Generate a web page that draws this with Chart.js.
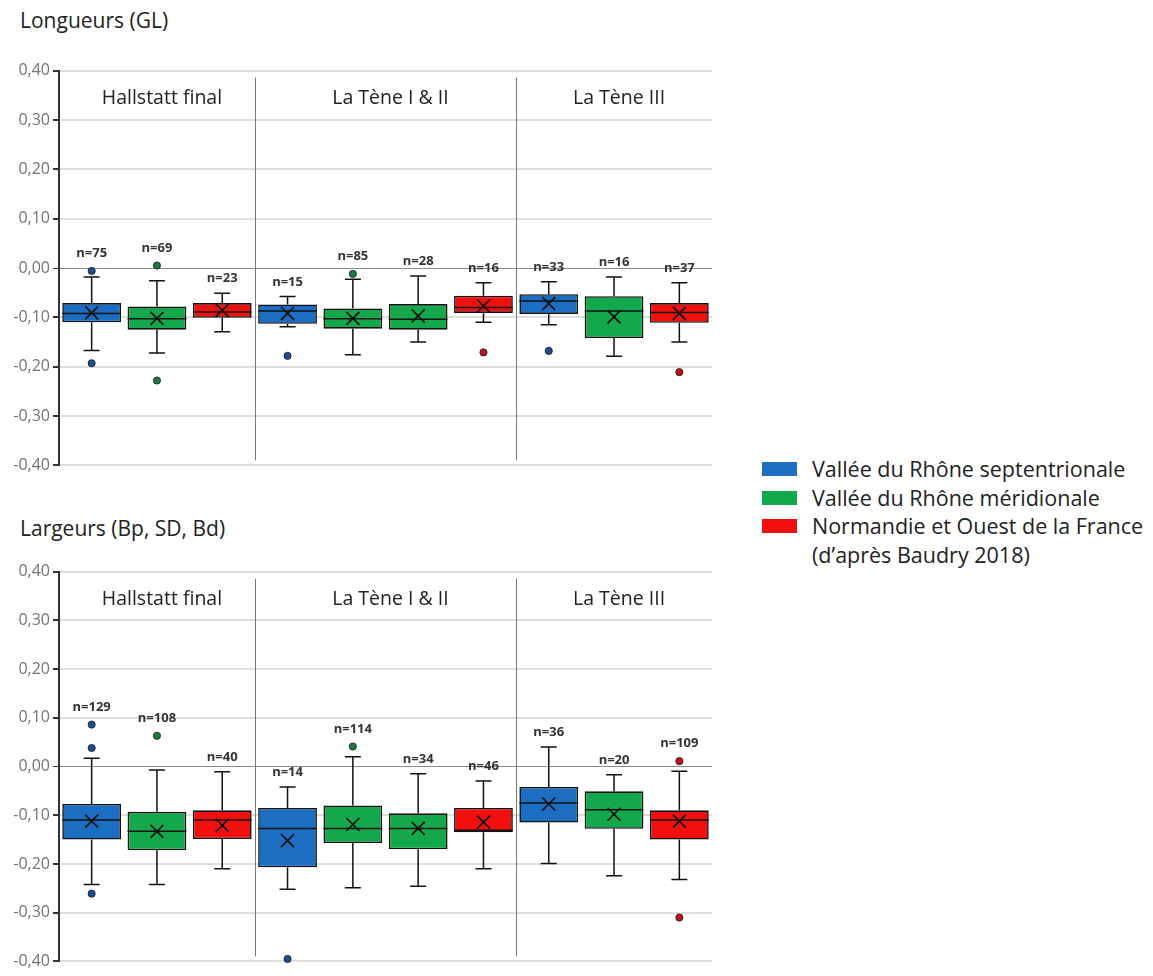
<!DOCTYPE html>
<html lang="fr">
<head>
  <meta charset="UTF-8" />
  <title>Longueurs et largeurs</title>
  <script src="https://cdn.jsdelivr.net/npm/chart.js@4"></script>
  <style>
    body { margin: 0; background: #fff; font-family: "Open Sans", sans-serif; color: #222; }
    #page { position: relative; width: 1153px; height: 976px; overflow: hidden; }
    .title { position: absolute; left: 20px; font-size: 21px; line-height: 24px; }
    canvas { position: absolute; left: 0; }
    #legend { position: absolute; left: 762px; top: 455px; font-size: 21.5px; line-height: 28.5px; }
    #legend .row { display: flex; align-items: center; }
    #legend .sw { display: inline-block; width: 35px; height: 14px; margin-right: 15px; }
    #legend .indent { padding-left: 50px; }
  </style>
</head>
<body>
<div id="page">
  <div class="title" style="top:8px">Longueurs (GL)</div>
  <canvas id="chartGL" width="730" height="420" style="top:58px"></canvas>
  <div class="title" style="top:516px">Largeurs (Bp, SD, Bd)</div>
  <canvas id="chartLG" width="730" height="415" style="top:559px"></canvas>
  <div id="legend"></div>
</div>

<script>
  // périodes et régions
  const groups = ["Hallstatt final", "La Tène I & II", "La Tène III"];
  const groupSizes = [3, 4, 3];
  const regions = ["Vallée du Rhône septentrionale", "Vallée du Rhône méridionale", "Normandie et Ouest de la France"];
  const regionNote = "(d’après Baudry 2018)";
  const regionColors = ["#1b6ec2", "#13a84b", "#f40f0f"];
  const dotColors = ["#1d4f8f", "#1a7a40", "#c01018"];
  const boxLabels = ["HF-S", "HF-M", "HF-N", "LT-S", "LT-M1", "LT-M2", "LT-N", "LT3-S", "LT3-M", "LT3-N"];
  const boxRegion = [0, 1, 2, 0, 1, 1, 2, 0, 1, 2];
  const yTicks = [-0.4, -0.3, -0.2, -0.1, 0, 0.1, 0.2, 0.3, 0.4];

  // Longueurs (GL)
  const glN = [75, 69, 23, 15, 85, 28, 16, 33, 16, 37];
  const glQ1 = [-0.110, -0.125, -0.101, -0.113, -0.123, -0.125, -0.091, -0.093, -0.142, -0.111];
  const glQ3 = [-0.071, -0.078, -0.071, -0.074, -0.082, -0.073, -0.056, -0.053, -0.057, -0.071];
  const glMedian = [-0.092, -0.103, -0.089, -0.087, -0.103, -0.104, -0.080, -0.067, -0.087, -0.090];
  const glMean = [-0.091, -0.102, -0.086, -0.092, -0.102, -0.097, -0.077, -0.072, -0.099, -0.092];
  const glMin = [-0.167, -0.172, -0.129, -0.119, -0.176, -0.150, -0.110, -0.115, -0.179, -0.150];
  const glMax = [-0.018, -0.026, -0.051, -0.058, -0.023, -0.016, -0.030, -0.028, -0.018, -0.030];
  const glOutliers = [[-0.006, -0.193], [0.005, -0.228], [], [-0.178], [-0.012], [], [-0.171], [-0.168], [], [-0.211]];

  // Largeurs (Bp, SD, Bd)
  const lgN = [129, 108, 40, 14, 114, 34, 46, 36, 20, 109];
  const lgQ1 = [-0.150, -0.172, -0.149, -0.207, -0.157, -0.170, -0.135, -0.115, -0.128, -0.150];
  const lgQ3 = [-0.077, -0.093, -0.090, -0.085, -0.080, -0.096, -0.085, -0.042, -0.051, -0.090];
  const lgMedian = [-0.110, -0.133, -0.110, -0.127, -0.127, -0.127, -0.131, -0.075, -0.089, -0.110];
  const lgMean = [-0.112, -0.133, -0.121, -0.152, -0.119, -0.127, -0.114, -0.077, -0.098, -0.112];
  const lgMin = [-0.242, -0.242, -0.210, -0.252, -0.249, -0.246, -0.210, -0.199, -0.224, -0.232];
  const lgMax = [0.017, -0.007, -0.011, -0.042, 0.020, -0.015, -0.030, 0.040, -0.017, -0.010];
  const lgOutliers = [[0.086, 0.038, -0.261], [0.063], [], [-0.395], [0.041], [], [], [], [], [0.011, -0.310]];

  // légende
  const legend = document.getElementById("legend");
  regions.forEach((r, i) => {
    legend.innerHTML += `<div class="row"><span class="sw" style="background:${regionColors[i]}"></span>${r}</div>`;
  });
  legend.innerHTML += `<div class="indent">${regionNote}</div>`;

  // moustaches, médianes, moyennes, points isolés, effectifs, séparateurs
  const boxPlugin = {
    id: "boxExtras",
    beforeDatasetsDraw(chart) {
      const { ctx, chartArea, scales } = chart;
      const x = scales.x;
      ctx.save();
      let start = 0;
      groups.forEach((g, gi) => {
        const end = start + groupSizes[gi] - 1;
        const center = (x.getPixelForValue(start) + x.getPixelForValue(end)) / 2;
        ctx.fillStyle = "#222";
        ctx.font = "19.5px 'Open Sans'";
        ctx.textAlign = "center";
        ctx.textBaseline = "middle";
        ctx.fillText(g, center + 5, chartArea.top + 28);
        if (gi < groups.length - 1) {
          const sx = Math.round((x.getPixelForValue(end) + x.getPixelForValue(end + 1)) / 2) + 0.5;
          ctx.strokeStyle = "#777";
          ctx.lineWidth = 1;
          ctx.beginPath();
          ctx.moveTo(sx, chartArea.top + 7);
          ctx.lineTo(sx, chartArea.bottom - 5);
          ctx.stroke();
        }
        start = end + 1;
      });
      ctx.restore();
    },
    afterDatasetsDraw(chart) {
      const { ctx, scales } = chart;
      const y = scales.y;
      const s = chart.options.plugins.boxExtras;
      const meta = chart.getDatasetMeta(0);
      ctx.save();
      meta.data.forEach((bar, i) => {
        const cx = bar.x;
        const half = bar.width / 2;
        ctx.strokeStyle = "#111";
        ctx.lineWidth = 1.5;
        // moustaches
        const yMax = y.getPixelForValue(s.max[i]);
        const yMin = y.getPixelForValue(s.min[i]);
        ctx.beginPath();
        ctx.moveTo(cx, y.getPixelForValue(s.q3[i]));
        ctx.lineTo(cx, yMax);
        ctx.moveTo(cx - 8, yMax);
        ctx.lineTo(cx + 8, yMax);
        ctx.moveTo(cx, y.getPixelForValue(s.q1[i]));
        ctx.lineTo(cx, yMin);
        ctx.moveTo(cx - 8, yMin);
        ctx.lineTo(cx + 8, yMin);
        ctx.stroke();
        // médiane
        const yMed = y.getPixelForValue(s.median[i]);
        ctx.beginPath();
        ctx.moveTo(cx - half, yMed);
        ctx.lineTo(cx + half, yMed);
        ctx.stroke();
        // moyenne
        const yMean = y.getPixelForValue(s.mean[i]);
        ctx.lineWidth = 1.7;
        ctx.beginPath();
        ctx.moveTo(cx - 6.5, yMean - 6.5);
        ctx.lineTo(cx + 6.5, yMean + 6.5);
        ctx.moveTo(cx + 6.5, yMean - 6.5);
        ctx.lineTo(cx - 6.5, yMean + 6.5);
        ctx.stroke();
        // points isolés
        let top = yMax;
        s.outliers[i].forEach(v => {
          const py = y.getPixelForValue(v);
          ctx.fillStyle = dotColors[boxRegion[i]];
          ctx.strokeStyle = "#1a1a1a";
          ctx.lineWidth = 0.8;
          ctx.beginPath();
          ctx.arc(cx, py, 3.6, 0, Math.PI * 2);
          ctx.fill();
          ctx.stroke();
          top = Math.min(top, py - 3);
        });
        // effectif
        ctx.fillStyle = "#333";
        ctx.font = "bold 13px 'Open Sans'";
        ctx.textAlign = "center";
        ctx.textBaseline = "bottom";
        ctx.fillText("n=" + s.n[i], cx, top - 8);
      });
      ctx.restore();
    }
  };

  function makeChart(id, stats, padBottom) {
    return new Chart(document.getElementById(id), {
      type: "bar",
      data: {
        labels: boxLabels,
        datasets: [{
          data: stats.q1.map((v, i) => [v, stats.q3[i]]),
          backgroundColor: boxRegion.map(r => regionColors[r]),
          borderColor: "#111",
          borderWidth: 1.6,
          borderSkipped: false,
          barPercentage: 0.9,
          categoryPercentage: 1.0
        }]
      },
      options: {
        responsive: false,
        animation: false,
        layout: { padding: { top: 10, right: 18, bottom: padBottom, left: 0 } },
        plugins: {
          legend: { display: false },
          tooltip: { enabled: false },
          boxExtras: stats
        },
        scales: {
          x: { display: false },
          y: {
            min: -0.4,
            max: 0.4,
            afterFit: scale => { scale.width = 59; },
            afterBuildTicks: scale => { scale.ticks = yTicks.map(v => ({ value: v })); },
            border: { color: "#333", width: 2 },
            grid: {
              color: c => (c.tick && Math.abs(c.tick.value) < 1e-9 ? "#8a8a8a" : "#dedede"),
              lineWidth: c => (c.tick && Math.abs(c.tick.value) < 1e-9 ? 1 : 2),
              tickColor: "#333",
              tickLength: 6
            },
            ticks: {
              color: "#737373",
              padding: 3,
              font: { family: "'Open Sans'", size: 16 },
              callback: v => v.toFixed(2).replace(".", ",").replace("-0,00", "0,00")
            }
          }
        }
      },
      plugins: [boxPlugin]
    });
  }

  makeChart("chartGL", { n: glN, q1: glQ1, q3: glQ3, median: glMedian, mean: glMean, min: glMin, max: glMax, outliers: glOutliers }, 11);
  makeChart("chartLG", { n: lgN, q1: lgQ1, q3: lgQ3, median: lgMedian, mean: lgMean, min: lgMin, max: lgMax, outliers: lgOutliers }, 7);
</script>
</body>
</html>
